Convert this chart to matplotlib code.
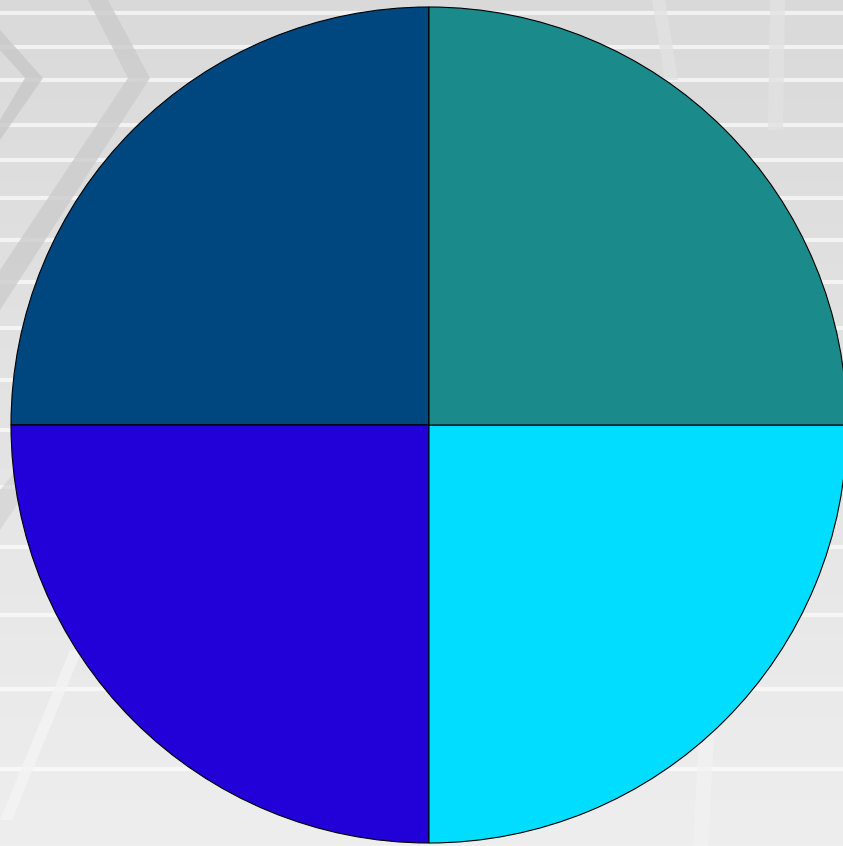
import numpy as np
import matplotlib
matplotlib.use('Agg')
import matplotlib.pyplot as plt
from matplotlib.patches import Polygon

# Datos del gráfico: cuatro sectores iguales
labels = ['A', 'B', 'C', 'D']
values = [25, 25, 25, 25]
colors = ['#00467F', '#2200D8', '#00DDFF', '#1A8A8A']

W, H = 843, 846
fig = plt.figure(figsize=(W / 100, H / 100), dpi=100)
ax = fig.add_axes([0, 0, 1, 1])
ax.set_xlim(0, W)
ax.set_ylim(0, H)
ax.axis('off')

# Fondo: degradado gris con líneas horizontales claras
grad = np.linspace(0.85, 0.93, 256).reshape(-1, 1)
ax.imshow(grad, cmap='gray', vmin=0, vmax=1, extent=[0, W, 0, H],
          origin='upper', aspect='auto', zorder=0)
for y in [13, 47, 80, 125, 160, 198, 240, 282, 328, 380, 430, 487, 547, 615, 689, 769]:
    ax.axhline(H - y, color='white', lw=3, alpha=0.65, zorder=1)

# Galones decorativos
band = dict(closed=True, lw=0, zorder=2)
ax.add_patch(Polygon([(0, H - 50), (25, H - 78), (0, H - 120), (0, H - 140), (43, H - 78), (0, H - 30)],
                     fc='#c8c8c8', alpha=0.8, **band))
ax.add_patch(Polygon([(88, H), (108, H), (150, H - 78), (0, H - 310), (0, H - 270), (128, H - 78)],
                     fc='#cccccc', alpha=0.8, **band))
ax.add_patch(Polygon([(0, H - 530), (0, H - 490), (40, H - 440), (50, H - 455)],
                     fc='#d0d0d0', alpha=0.6, **band))
ax.add_patch(Polygon([(70, H - 650), (82, H - 650), (12, H - 820), (0, H - 820)],
                     fc='#f4f4f4', alpha=0.8, **band))
ax.add_patch(Polygon([(700, H - 720), (715, H - 720), (708, H - 846), (693, H - 846)],
                     fc='#f2f2f2', alpha=0.8, **band))
ax.add_patch(Polygon([(770, H), (785, H), (783, H - 130), (768, H - 130)],
                     fc='#e2e2e2', alpha=0.8, **band))
ax.add_patch(Polygon([(652, H), (665, H), (678, H - 80), (665, H - 80)],
                     fc='#e2e2e2', alpha=0.8, **band))

# Gráfico circular
ax.pie(values, colors=colors, startangle=90, counterclock=True,
       center=(429, H - 425), radius=418,
       wedgeprops=dict(edgecolor='black', linewidth=0.8, zorder=5))
ax.set_xlim(0, W)
ax.set_ylim(0, H)
ax.set_aspect('auto')

plt.savefig('out.png', dpi=100)
